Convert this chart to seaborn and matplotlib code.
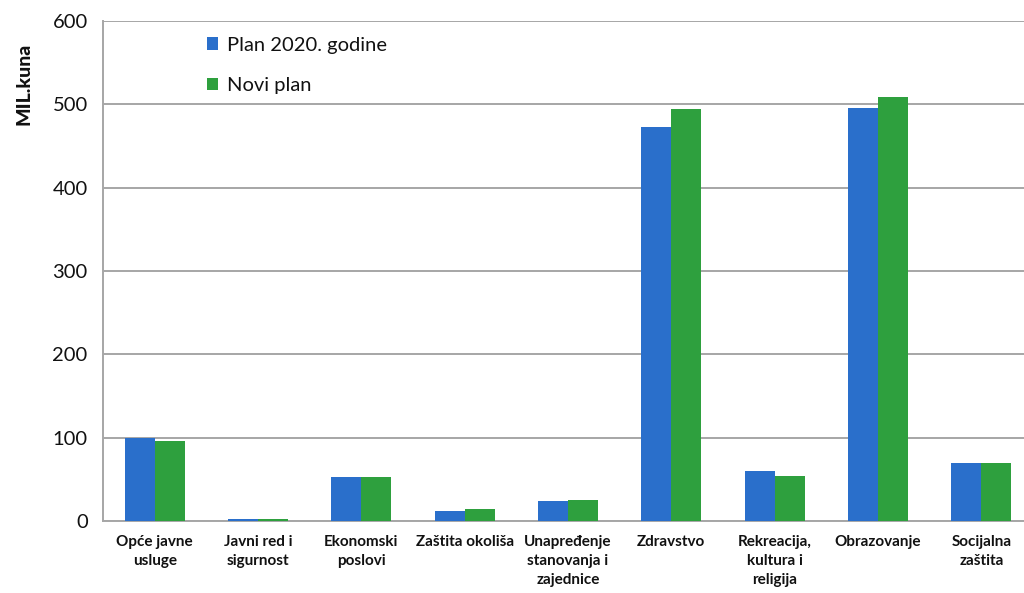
import matplotlib
matplotlib.use("Agg")
import matplotlib.pyplot as plt
import numpy as np
import pandas as pd
import seaborn as sns

categories = [
    "Opće javne\nusluge",
    "Javni red i\nsigurnost",
    "Ekonomski\nposlovi",
    "Zaštita okoliša",
    "Unapređenje\nstanovanja i\nzajednice",
    "Zdravstvo",
    "Rekreacija,\nkultura i\nreligija",
    "Obrazovanje",
    "Socijalna\nzaštita",
]
plan_2020 = [100, 3, 53, 12, 24, 473, 60, 496, 70]
novi_plan = [96, 3, 53, 14, 25, 494, 54, 509, 70]
series_names = ["Plan 2020. godine", "Novi plan"]

df = pd.DataFrame({
    "kategorija": categories * 2,
    "vrijednost": plan_2020 + novi_plan,
    "serija": [series_names[0]] * len(categories) + [series_names[1]] * len(categories),
})

sns.set_style("white")
plt.rcParams["font.family"] = ["Lato", "DejaVu Sans"]

fig = plt.figure(figsize=(10.24, 5.93), dpi=100)
ax = fig.add_axes([103 / 1024, 72 / 593, 930 / 1024, 500 / 593])

palette = {series_names[0]: "#2a6fcb", series_names[1]: "#2ea03e"}
sns.barplot(data=df, x="kategorija", y="vrijednost", hue="serija",
            palette=palette, width=0.58, saturation=1, ax=ax,
            errorbar=None, linewidth=0, edgecolor="none", zorder=3)

ax.set_ylim(0, 600)
ax.set_xlim(-0.5, len(categories) - 0.5)
ax.set_yticks(np.arange(0, 601, 100))
ax.yaxis.grid(True, color="#a6a6a6", linewidth=1.4, zorder=0)
ax.set_axisbelow(True)

for side in ["top", "right"]:
    ax.spines[side].set_visible(False)
ax.spines["left"].set_color("#a6a6a6")
ax.spines["bottom"].set_color("#a6a6a6")
ax.spines["left"].set_linewidth(1.4)
ax.spines["bottom"].set_linewidth(1.4)

ax.tick_params(axis="y", which="major", length=5, color="#a6a6a6", width=1.2,
               labelsize=14.5, pad=6, labelcolor="#111111")
ax.tick_params(axis="x", which="major", length=0, labelsize=11, pad=10,
               labelcolor="#111111")
ax.set_xticks(np.arange(-0.5, len(categories), 1), minor=True)
ax.tick_params(axis="x", which="minor", length=5, color="#a6a6a6", width=1.2)
for lbl in ax.get_xticklabels():
    lbl.set_fontweight("bold")
    lbl.set_linespacing(1.45)

ax.set_xlabel("")
ax.set_ylabel("MIL.kuna", fontsize=14, fontweight="black", color="#111111")
ax.yaxis.set_label_coords(-0.076, 0.874)

leg = ax.legend(loc="upper left", bbox_to_anchor=(0.092, 1.005), frameon=False,
                fontsize=14.5, handlelength=0.55, handleheight=0.55,
                handletextpad=0.45, labelspacing=1.15)
for txt in leg.get_texts():
    txt.set_color("#111111")

fig.savefig("out.png", dpi=100)
